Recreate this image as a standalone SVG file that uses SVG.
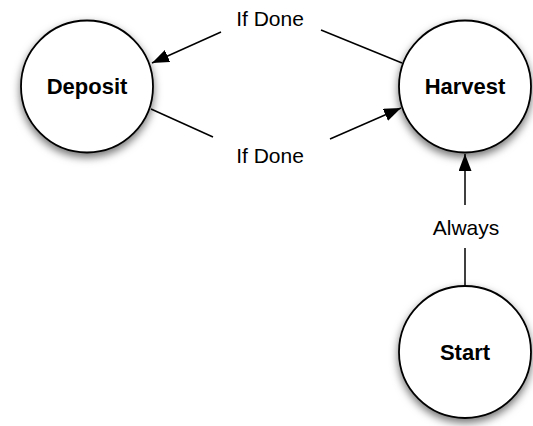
<svg xmlns="http://www.w3.org/2000/svg" width="533" height="426" viewBox="0 0 533 426">
<style>
.node circle{fill:#fff;stroke:#000;stroke-width:1.8;filter:url(#sh)}
.node text{font-family:"Liberation Sans",Arial,sans-serif;font-weight:bold;font-size:22px;text-anchor:middle;fill:#000}
.conn line{stroke:#000;stroke-width:1.5;fill:none}
.lbl{font-family:"Liberation Sans",Arial,sans-serif;font-size:21px;text-anchor:middle;fill:#000}
</style>
<defs>
<filter id="sh" x="-30%" y="-30%" width="160%" height="170%">
<feDropShadow dx="0" dy="4" stdDeviation="4" flood-color="#000" flood-opacity="0.55"/>
</filter>
<marker id="ah" markerWidth="18" markerHeight="14" refX="17" refY="6.5" orient="auto" markerUnits="userSpaceOnUse">
<path d="M0,0 L17,6.5 L0,13 Z" fill="#000"/>
</marker>
</defs>
<rect width="533" height="426" fill="#fff"/>
<g id="deposit" class="node"><circle cx="87" cy="86.5" r="66"/><text x="87" y="94">Deposit</text></g>
<g id="harvest" class="node"><circle cx="465" cy="86.5" r="66"/><text x="465" y="94">Harvest</text></g>
<g id="start" class="node"><circle cx="465" cy="352" r="66"/><text x="465" y="359.5">Start</text></g>
<g id="connectors" class="conn">
<line x1="402" y1="63" x2="321" y2="30"/>
<line x1="221" y1="32" x2="152" y2="63" marker-end="url(#ah)"/>
<line x1="151" y1="109" x2="213" y2="137"/>
<line x1="330" y1="139" x2="401" y2="108" marker-end="url(#ah)"/>
<line x1="465" y1="285" x2="465" y2="248"/>
<line x1="465" y1="205" x2="465" y2="154" marker-end="url(#ah)"/>
<text class="lbl" x="270" y="26">If Done</text>
<text class="lbl" x="270" y="163">If Done</text>
<text class="lbl" x="466" y="235">Always</text>
</g>
</svg>
